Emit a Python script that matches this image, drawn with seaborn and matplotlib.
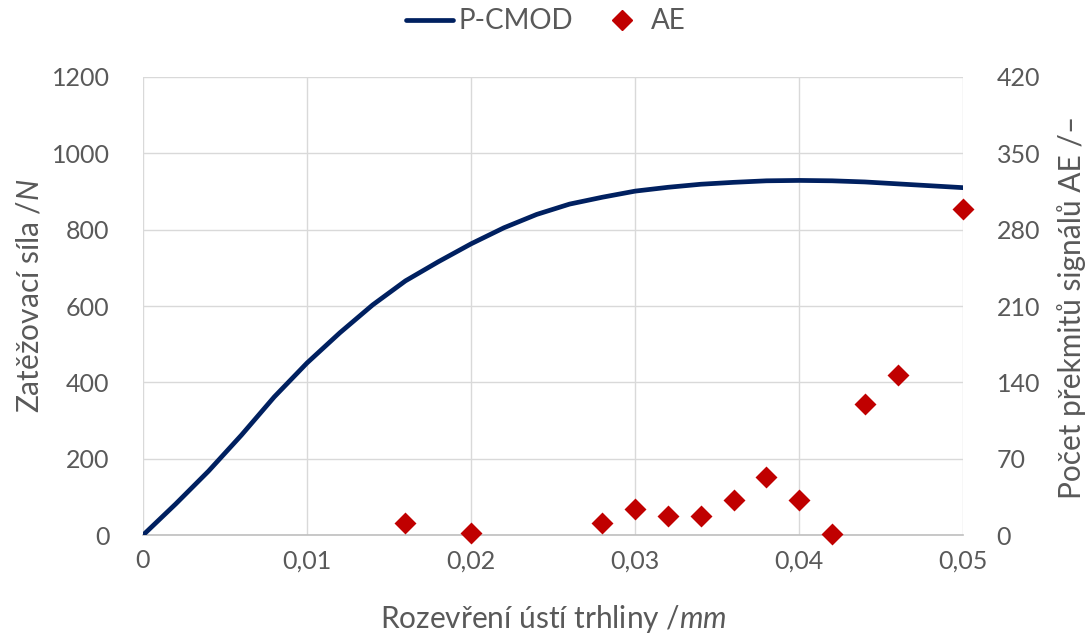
import numpy as np
import pandas as pd
import matplotlib
matplotlib.use('Agg')
import matplotlib.pyplot as plt
import seaborn as sns
from matplotlib.lines import Line2D
from matplotlib.ticker import FuncFormatter

# P-CMOD curve
cmod_x = [0, 0.002, 0.004, 0.006, 0.008, 0.010, 0.012, 0.014, 0.016, 0.018,
          0.020, 0.022, 0.024, 0.026, 0.028, 0.030, 0.032, 0.034, 0.036,
          0.038, 0.040, 0.042, 0.044, 0.046, 0.048, 0.050]
force = [0, 82, 168, 262, 362, 451, 530, 603, 666, 716,
         763, 805, 840, 867, 885, 901, 911, 919, 924,
         928, 929, 928, 925, 920, 915, 910]

# AE counts
ae_x = [0.016, 0.020, 0.028, 0.030, 0.032, 0.034, 0.036, 0.038, 0.040, 0.042, 0.044, 0.046, 0.050]
ae_counts = [11, 2, 11, 24, 18, 18, 32, 53, 32, 1, 120, 147, 299]

x_ticks = [0, 0.01, 0.02, 0.03, 0.04, 0.05]
y_left_ticks = [0, 200, 400, 600, 800, 1000, 1200]
y_right_ticks = [0, 70, 140, 210, 280, 350, 420]

line_color = '#002060'
ae_color = '#C00000'
text_color = '#595959'
grid_color = '#d9d9d9'

sns.set_style('white')
plt.rcParams['font.family'] = ['Lato', 'DejaVu Sans']
plt.rcParams['mathtext.fontset'] = 'custom'
plt.rcParams['mathtext.rm'] = 'Lato'
plt.rcParams['mathtext.it'] = 'Lato:italic'
fs = 18      # tick labels
fs_lab = 21.5  # axis titles

fig = plt.figure(figsize=(10.91, 6.41), dpi=100)
ax = fig.add_axes([0.131, 0.165, 0.752, 0.715])

df_line = pd.DataFrame({'x': cmod_x, 'F': force})
sns.lineplot(data=df_line, x='x', y='F', ax=ax, color=line_color, linewidth=3.4, zorder=3)

ax.set_xlim(0, 0.05)
ax.set_ylim(0, 1200)
ax.set_xticks(x_ticks)
ax.set_yticks(y_left_ticks)
ax.xaxis.set_major_formatter(FuncFormatter(lambda v, p: '0' if v == 0 else ('%.2f' % v).replace('.', ',')))
ax.grid(True, color=grid_color, linewidth=1)
ax.set_axisbelow(True)
for s in ['top', 'right', 'left']:
    ax.spines[s].set_visible(False)
ax.spines['bottom'].set_color('#bfbfbf')
ax.spines['bottom'].set_linewidth(1.2)
ax.tick_params(axis='both', length=0, labelsize=fs, colors=text_color)
ax.tick_params(axis='y', pad=24)
ax.tick_params(axis='x', pad=10)

ax.set_xlabel('Rozevření ústí trhliny /$\\mathit{mm}$', fontsize=fs_lab, color=text_color)
ax.xaxis.set_label_coords(0.5, -0.148)
ax.set_ylabel('Zatěžovací síla /$\\mathit{N}$', fontsize=fs_lab, color=text_color, va='center')
ax.yaxis.set_label_coords(-0.138, 0.522)

ax2 = ax.twinx()
df_ae = pd.DataFrame({'x': ae_x, 'n': ae_counts})
sns.scatterplot(data=df_ae, x='x', y='n', ax=ax2, color=ae_color, marker='D', s=125,
                linewidth=0, zorder=4, clip_on=False)
ax2.set_ylim(0, 420)
ax2.set_yticks(y_right_ticks)
for s in ['top', 'right', 'left', 'bottom']:
    ax2.spines[s].set_visible(False)
ax2.tick_params(axis='y', length=0, labelsize=fs, colors=text_color, pad=24)
ax2.set_ylabel('Počet překmitů signálů AE /–', fontsize=fs_lab, color=text_color, va='center')
ax2.yaxis.set_label_coords(1.132, 0.497)
ax2.set_xlabel('')

handles = [Line2D([0], [0], color=line_color, linewidth=3.4),
           Line2D([0], [0], color=ae_color, marker='D', linestyle='none', markersize=10)]
fig.legend(handles, ['P-CMOD', 'AE'], loc='upper center', bbox_to_anchor=(0.5, 1.026),
           ncol=2, frameon=False, fontsize=20, labelcolor=text_color,
           handlelength=1.7, columnspacing=0.9, handletextpad=0.2)

fig.savefig('out.png', dpi=100)
